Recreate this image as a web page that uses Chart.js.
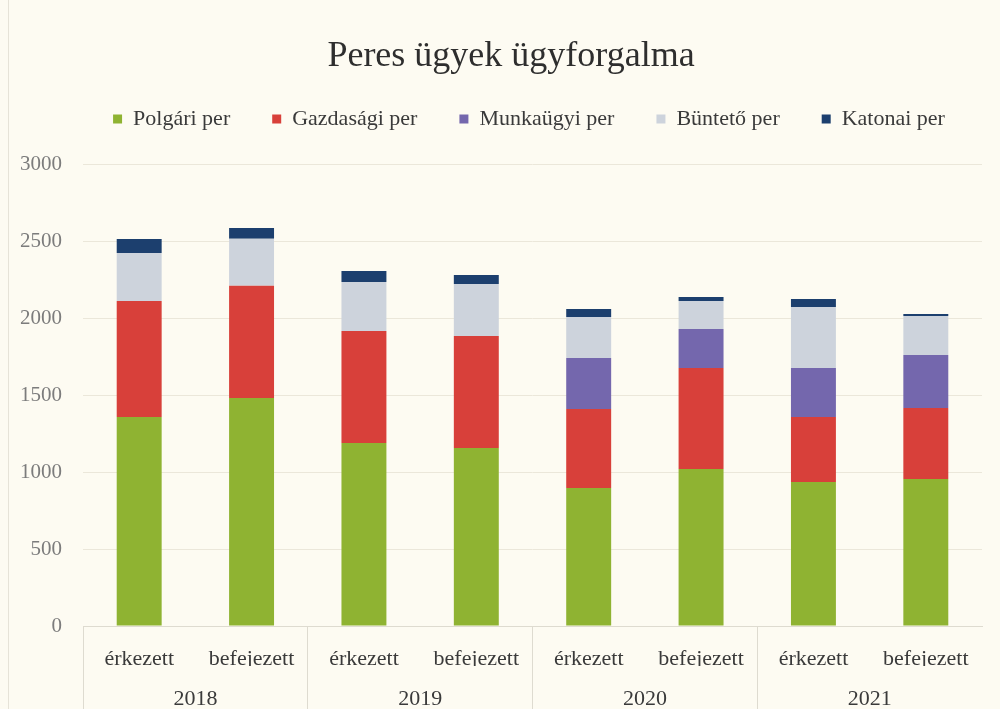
<!DOCTYPE html>
<html>
<head>
<meta charset="utf-8">
<script src="https://cdn.jsdelivr.net/npm/chart.js@4.4.1/dist/chart.umd.min.js"></script>
<style>
  html, body { margin: 0; padding: 0; background: #fdfbf2; }
  #wrap { position: relative; width: 1000px; height: 709px; }
  #edge { position: absolute; left: 8px; top: 0; width: 1px; height: 709px; background: #e6e3d8; }
</style>
</head>
<body>
<div id="wrap">
  <div id="edge"></div>
  <canvas id="myChart" width="1000" height="709"></canvas>
</div>
<script>
// sub-categories and years
const subLabels = ["érkezett", "befejezett", "érkezett", "befejezett", "érkezett", "befejezett", "érkezett", "befejezett"];
const years = ["2018", "2019", "2020", "2021"];

// values
const polgari = [1357, 1481, 1188, 1156, 896, 1019, 935, 955];
const gazdasagi = [753, 728, 728, 727, 513, 656, 422, 461];
const munkaugyi = [0, 0, 0, 0, 331, 254, 318, 344];
const bunteto = [312, 305, 318, 338, 266, 181, 396, 253];
const katonai = [91, 71, 71, 58, 52, 26, 52, 13];

const serif = "'Liberation Serif', 'Times New Roman', serif";

function ds(label, data, color) {
  return {
    label: label,
    data: data,
    backgroundColor: color,
    borderWidth: 0,
    xAxisID: 'x',
    categoryPercentage: 1.0,
    barPercentage: 0.4
  };
}

// extra room under the legend, and nudge title/legend to the right like the original
const headerTweak = {
  id: 'headerTweak',
  beforeInit(chart, args, opts) {
    const fit = chart.legend.fit;
    chart.legend.fit = function () {
      fit.bind(chart.legend)();
      this.height += opts.extra || 0;
    };
  },
  afterLayout(chart, args, opts) {
    if (chart.legend) {
      chart.legend.left += opts.legendShift;
      chart.legend.right += opts.legendShift;
    }
    if (chart.titleBlock) {
      chart.titleBlock.left += opts.titleShift;
      chart.titleBlock.right += opts.titleShift;
    }
  }
};

var ctx = document.getElementById('myChart').getContext('2d');
new Chart(ctx, {
  type: 'bar',
  data: {
    labels: subLabels,
    datasets: [
      ds("Polgári per", polgari, '#8fb332'),
      ds("Gazdasági per", gazdasagi, '#d8403a'),
      ds("Munkaügyi per", munkaugyi, '#7467ad'),
      ds("Büntető per", bunteto, '#cdd3dc'),
      ds("Katonai per", katonai, '#1c3f6e')
    ]
  },
  plugins: [headerTweak],
  options: {
    responsive: false,
    animation: false,
    layout: { padding: { left: 0, right: 18, top: 0, bottom: 0 } },
    plugins: {
      title: {
        display: true,
        text: "Peres ügyek ügyforgalma",
        color: '#2e2e2e',
        font: { family: serif, size: 36, weight: 'normal', lineHeight: 1.0 },
        padding: { top: 39, bottom: -9 }
      },
      legend: {
        position: 'top',
        labels: {
          color: '#3a3a3a',
          font: { family: serif, size: 22 },
          boxWidth: 9,
          boxHeight: 9,
          padding: 42
        }
      },
      headerTweak: { extra: 24, legendShift: 38, titleShift: 20 },
      tooltip: { enabled: false }
    },
    scales: {
      x: {
        stacked: true,
        position: 'bottom',
        grid: {
          display: true,
          offset: true,
          drawOnChartArea: false,
          drawTicks: true,
          tickLength: 83,
          color: (c) => (c.index % 2 === 0 ? '#dedbd0' : 'rgba(0,0,0,0)')
        },
        border: { display: true, color: '#dedbd0' },
        ticks: {
          color: '#3a3a3a',
          font: { family: serif, size: 22 },
          padding: -63,
          maxRotation: 0,
          autoSkip: false
        },
        afterFit: (s) => { s.height = 40; }
      },
      x2: {
        type: 'category',
        labels: years,
        position: 'bottom',
        offset: true,
        grid: { display: false, drawTicks: false },
        border: { display: false },
        ticks: {
          color: '#3a3a3a',
          font: { family: serif, size: 22 },
          padding: 20,
          maxRotation: 0
        },
        afterFit: (s) => { s.height = 43; }
      },
      y: {
        stacked: true,
        min: 0,
        max: 3000,
        ticks: {
          stepSize: 500,
          color: '#7c7c7c',
          font: { family: serif, size: 21 },
          padding: 21,
          callback: (v) => String(v)
        },
        grid: { color: '#ebe7da', drawTicks: false },
        border: { display: false },
        afterFit: (s) => { s.width = 83; }
      }
    }
  }
});
</script>
</body>
</html>
